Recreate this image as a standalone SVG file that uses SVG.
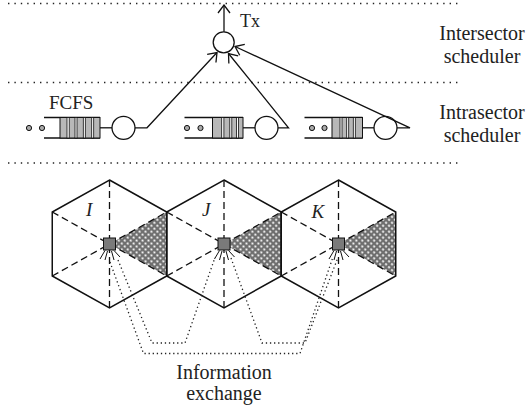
<svg xmlns="http://www.w3.org/2000/svg" width="530" height="410" viewBox="0 0 530 410">
<style>
.sep{stroke:#222;stroke-width:1.4;stroke-dasharray:1.4 5;fill:none}
.ln{stroke:#111;stroke-width:1.3;fill:none}
.arr{stroke:#111;stroke-width:1.3;fill:none;marker-end:url(#ah)}
.srv{stroke:#111;stroke-width:1.3;fill:#fff}
.dot{stroke:#111;stroke-width:1;fill:#aaa}
.pk{stroke:#111;stroke-width:1;fill:#b8b8b8}
.gap{stroke:#111;stroke-width:0.8;fill:#fff}
.hex{stroke:#111;stroke-width:1.5;fill:none}
.dash{stroke:#111;stroke-width:1.3;stroke-dasharray:7 4;fill:none}
.sec{fill:url(#hatch)}
.bs{fill:#7a7a7a;stroke:#111;stroke-width:1}
.ant{stroke:#111;stroke-width:1;fill:none}
.info{stroke:#222;stroke-width:1.3;stroke-dasharray:1.3 2.8;fill:none}
text{font-family:"Liberation Serif","DejaVu Serif","Noto Serif",serif;fill:#222}
.lbl{font-size:20px;text-anchor:middle}
.it{font-size:19px;font-style:italic}
</style>
<defs>
<marker id="ah" markerWidth="10" markerHeight="14" refX="9" refY="7" orient="auto" markerUnits="userSpaceOnUse">
<path d="M1,1 L9,7 L1,13" fill="none" stroke="#111" stroke-width="1.3"/>
</marker>
<pattern id="hatch" width="4.2" height="4.2" patternUnits="userSpaceOnUse" patternTransform="rotate(45)">
<rect width="4.2" height="4.2" fill="#6e6e6e"/>
<circle cx="2.1" cy="2.1" r="1.15" fill="#f4f4f4"/>
</pattern>
</defs>

<g id="separators">
<line class="sep" x1="8" y1="3.5" x2="459" y2="3.5"/>
<line class="sep" x1="8" y1="82.5" x2="459" y2="82.5"/>
<line class="sep" x1="8" y1="163" x2="459" y2="163"/>
</g>

<g id="labels" font-family="Liberation Serif, DejaVu Serif, serif">
<text class="lbl" x="482" y="40">Intersector</text>
<text class="lbl" x="482" y="62.5">scheduler</text>
<text class="lbl" x="482" y="119">Intrasector</text>
<text class="lbl" x="482" y="141.5">scheduler</text>
</g>

<g id="tx">
<circle class="srv" cx="223.7" cy="42.3" r="10.5"/>
<text x="240" y="26.5" font-size="18">Tx</text>
</g>

<g id="queue1">
<text x="49" y="108.5" font-size="19">FCFS</text>
<circle class="dot" cx="29" cy="128" r="2.6"/>
<circle class="dot" cx="42" cy="128" r="2.6"/>
<line class="ln" x1="44" y1="117.5" x2="100" y2="117.5"/>
<line class="ln" x1="44" y1="138" x2="100" y2="138"/>
<rect class="pk" x="60" y="117.5" width="40" height="20.5"/>
<rect class="gap" x="67" y="117.5" width="2.2" height="20.5"/>
<rect class="gap" x="75" y="117.5" width="2" height="20.5"/>
<rect class="gap" x="83.3" y="117.5" width="2" height="20.5"/>
<rect class="gap" x="91.7" y="117.5" width="2" height="20.5"/>
<line class="ln" x1="100" y1="127.8" x2="112" y2="127.8"/>
<circle class="srv" cx="123.5" cy="127.8" r="11.5"/>
</g>

<g id="queue2">
<circle class="dot" cx="187" cy="128" r="2.6"/>
<circle class="dot" cx="200.5" cy="128" r="2.6"/>
<line class="ln" x1="184.5" y1="117.5" x2="243" y2="117.5"/>
<line class="ln" x1="184.5" y1="138" x2="243" y2="138"/>
<rect class="pk" x="212.5" y="117.5" width="30.5" height="20.5"/>
<rect class="gap" x="221.7" y="117.5" width="2.2" height="20.5"/>
<rect class="gap" x="229.8" y="117.5" width="2" height="20.5"/>
<rect class="gap" x="236.5" y="117.5" width="2" height="20.5"/>
<line class="ln" x1="243" y1="127.8" x2="255" y2="127.8"/>
<circle class="srv" cx="266.5" cy="127.8" r="11.5"/>
</g>

<g id="queue3">
<circle class="dot" cx="312" cy="128" r="2.6"/>
<circle class="dot" cx="324.5" cy="128" r="2.6"/>
<line class="ln" x1="304.5" y1="117.5" x2="362.5" y2="117.5"/>
<line class="ln" x1="304.5" y1="138" x2="362.5" y2="138"/>
<rect class="pk" x="332" y="117.5" width="30.5" height="20.5"/>
<rect class="gap" x="340" y="117.5" width="2" height="20.5"/>
<rect class="gap" x="346.7" y="117.5" width="2" height="20.5"/>
<rect class="gap" x="353.3" y="117.5" width="2" height="20.5"/>
<line class="ln" x1="362.5" y1="127.8" x2="374" y2="127.8"/>
<circle class="srv" cx="385.5" cy="127.8" r="11.5"/>
</g>

<g id="connectors">
<path class="arr" d="M224,31.8 L224,5"/>
<path class="arr" d="M135,127.8 L147,127.8 L217,52.5"/>
<path class="arr" d="M278,127.8 L288.5,127.8 L228.5,53.5"/>
<path class="arr" d="M397,127.8 L410,127.8 L235,46.5"/>
</g>

<g id="cellI">
<path class="sec" d="M109.5,244 L166.75,212 L166.75,276 Z"/>
<path class="hex" d="M109.5,180 L166.75,212 L166.75,276 L109.5,308 L52.25,276 L52.25,212 Z"/>
<path class="dash" d="M109.5,180 L109.5,308 M52.25,212 L166.75,276 M52.25,276 L166.75,212"/>
<rect class="bs" x="103.5" y="238" width="12" height="12"/>
<path class="ant" d="M105,250.5 L100,259 M107.5,251 L105,260 M111.5,251 L114,260 M114,250.5 L120,257"/>
<text class="it" x="86" y="216">I</text>
</g>

<g id="cellJ">
<path class="sec" d="M224,244 L281.25,212 L281.25,276 Z"/>
<path class="hex" d="M224,180 L281.25,212 L281.25,276 L224,308 L166.75,276 L166.75,212 Z"/>
<path class="dash" d="M224,180 L224,308 M166.75,212 L281.25,276 M166.75,276 L281.25,212"/>
<rect class="bs" x="218" y="238" width="12" height="12"/>
<path class="ant" d="M219.5,250.5 L214.5,259 M222,251 L219.5,260 M226,251 L228.5,260 M228.5,250.5 L234.5,257"/>
<text class="it" x="202" y="216">J</text>
</g>

<g id="cellK">
<path class="sec" d="M338.5,244 L395.75,212 L395.75,276 Z"/>
<path class="hex" d="M338.5,180 L395.75,212 L395.75,276 L338.5,308 L281.25,276 L281.25,212 Z"/>
<path class="dash" d="M338.5,180 L338.5,308 M281.25,212 L395.75,276 M281.25,276 L395.75,212"/>
<rect class="bs" x="332.5" y="238" width="12" height="12"/>
<path class="ant" d="M334,250.5 L329,259 M336.5,251 L334,260 M340.5,251 L343,260 M343,250.5 L349,257"/>
<text class="it" x="311.5" y="218">K</text>
</g>

<g id="info-exchange">
<path class="info" d="M110,262 L143.5,353.5 L300,353.5 L333,257"/>
<path class="info" d="M118,260 L152,343 L185,343 L215,257.5"/>
<path class="info" d="M231,258 L262,343 L305,343 L338,257.5"/>
<text class="lbl" x="224" y="379">Information</text>
<text class="lbl" x="224" y="400">exchange</text>
</g>
</svg>
